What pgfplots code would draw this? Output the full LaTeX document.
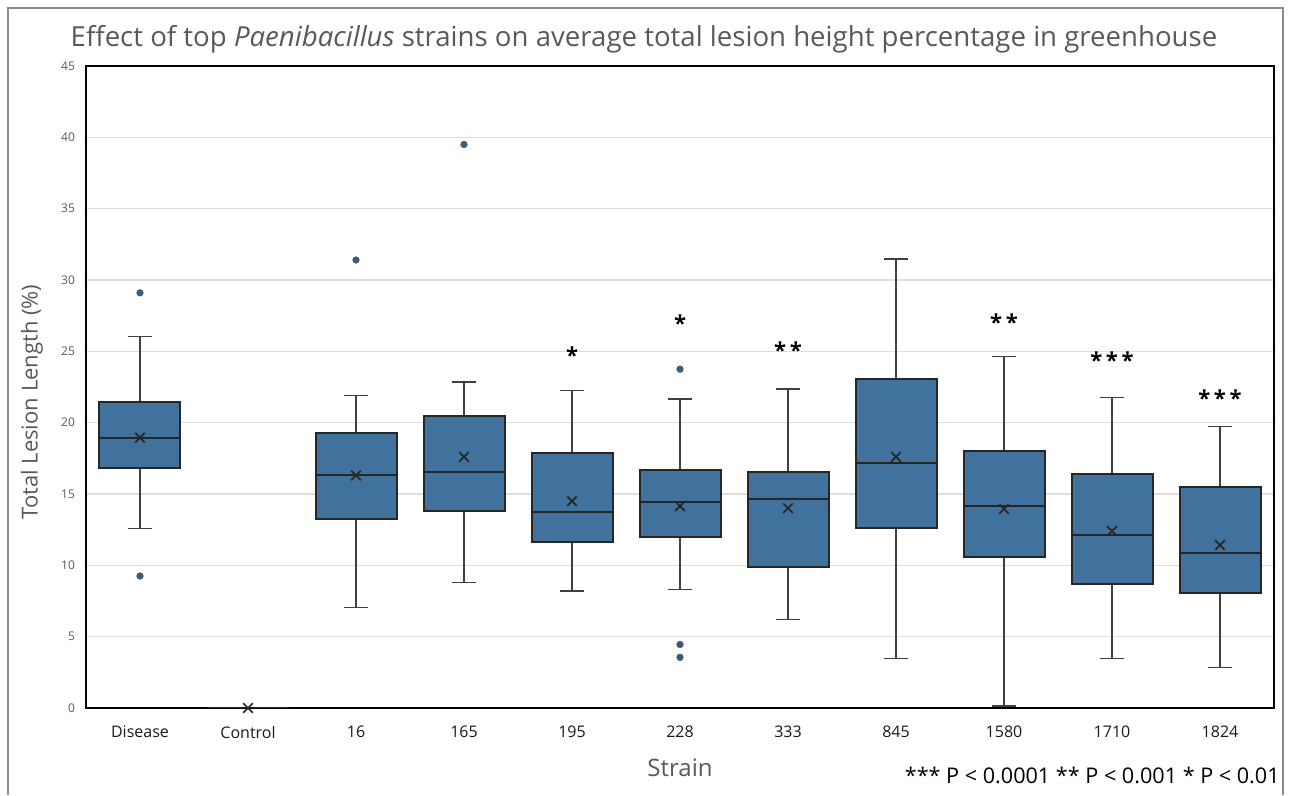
\documentclass[border=0pt]{standalone}
\usepackage{fontspec}
\setmainfont{Open Sans}
\usepackage{pgfplots}
\pgfplotsset{compat=1.18}
\usepgfplotslibrary{statistics}

\definecolor{boxblue}{RGB}{65,114,158}
\definecolor{dotblue}{RGB}{60,92,124}
\definecolor{txtgray}{RGB}{89,89,89}

\begin{document}
\begin{tikzpicture}
\begin{axis}[
  name=ax,
  at={(0,0)}, anchor=south west,
  scale only axis,
  width=594pt, height=321pt,
  xmin=-0.5, xmax=10.5,
  ymin=0, ymax=45,
  xtick={0,...,10},
  xticklabels={Disease,Control,16,165,195,228,333,845,1580,1710,1824},
  ytick={0,5,...,45},
  major tick length=0pt,
  ymajorgrids,
  grid style={draw=black!13, line width=0.7pt},
  axis line style={draw=black, line width=1pt},
  /pgf/number format/assume math mode=true,
  yticklabel style={font=\fontsize{6}{7}\selectfont, text=txtgray, xshift=-2pt},
  xticklabel style={font=\fontsize{8}{9}\selectfont, text=black!90, yshift=-5.5pt},
  boxplot/draw direction=y,
  boxplot/box extend=0.75,
  boxplot/whisker extend=0.22,
  boxplot/every box/.style={fill=boxblue, draw=black!85, line width=1pt},
  boxplot/every whisker/.style={draw=black!75, line width=0.7pt},
  boxplot/every median/.style={draw=black!85, line width=1pt},
]
% boxes: lower whisker, Q1, median, Q3, upper whisker
\addplot[boxplot prepared={draw position=0, lower whisker=12.6, lower quartile=16.8, median=18.95, upper quartile=21.45, upper whisker=26.05}] coordinates {};
\addplot[boxplot prepared={draw position=1, lower whisker=0, lower quartile=0, median=0, upper quartile=0, upper whisker=0}, boxplot/every box/.style={draw=black!40, line width=0.7pt}, boxplot/every whisker/.style={draw=none}] coordinates {};
\addplot[boxplot prepared={draw position=2, lower whisker=7.05, lower quartile=13.22, median=16.3, upper quartile=19.27, upper whisker=21.9}] coordinates {};
\addplot[boxplot prepared={draw position=3, lower whisker=8.8, lower quartile=13.83, median=16.54, upper quartile=20.46, upper whisker=22.85}] coordinates {};
\addplot[boxplot prepared={draw position=4, lower whisker=8.2, lower quartile=11.66, median=13.71, upper quartile=17.85, upper whisker=22.26}] coordinates {};
\addplot[boxplot prepared={draw position=5, lower whisker=8.32, lower quartile=12.0, median=14.41, upper quartile=16.66, upper whisker=21.65}] coordinates {};
\addplot[boxplot prepared={draw position=6, lower whisker=6.19, lower quartile=9.88, median=14.62, upper quartile=16.54, upper whisker=22.35}] coordinates {};
\addplot[boxplot prepared={draw position=7, lower whisker=3.46, lower quartile=12.61, median=17.15, upper quartile=23.08, upper whisker=31.46}] coordinates {};
\addplot[boxplot prepared={draw position=8, lower whisker=0.14, lower quartile=10.6, median=14.16, upper quartile=17.99, upper whisker=24.62}] coordinates {};
\addplot[boxplot prepared={draw position=9, lower whisker=3.46, lower quartile=8.69, median=12.15, upper quartile=16.42, upper whisker=21.77}] coordinates {};
\addplot[boxplot prepared={draw position=10, lower whisker=2.85, lower quartile=8.08, median=10.84, upper quartile=15.47, upper whisker=19.74}] coordinates {};

% means
\addplot[only marks, mark=x, mark size=3.4pt, mark options={draw=black!85, line width=0.85pt}]
  coordinates {(0,18.95) (1,0) (2,16.3) (3,17.6) (4,14.5) (5,14.15) (6,14.0) (7,17.6) (8,13.95) (9,12.4) (10,11.42)};

% outliers
\addplot[only marks, mark=*, mark size=1.6pt, mark options={fill=dotblue, draw=dotblue}]
  coordinates {(0,29.1) (0,9.25) (2,31.4) (3,39.5) (5,23.75) (5,4.45) (5,3.55)};

% significance
\begin{scope}[every node/.style={font=\fontsize{11}{12}\selectfont\bfseries, inner sep=0pt}]
\node at (axis cs:4,24.7) {*};
\node at (axis cs:5,26.96) {*};
\node at (axis cs:6,25.1) {*\,*};
\node at (axis cs:8,27.03) {*\,*};
\node at (axis cs:9,24.39) {*\,*\,*};
\node at (axis cs:10,21.7) {*\,*\,*};
\end{scope}
\end{axis}

% outer frame
\draw[black!45, line width=0.8pt] (-39pt,-43.5pt) -- (-39pt,350pt) -- (598.5pt,350pt) -- (598.5pt,-43.5pt);

% title and labels
\node[text=txtgray, font=\fontsize{13.8}{16}\selectfont] at (279pt,334.5pt)
  {Effect of top \textit{Paenibacillus} strains on average total lesion height percentage in greenhouse};
\node[text=txtgray, font=\fontsize{11}{13}\selectfont, rotate=90] at (-27pt,153pt) {Total Lesion Length (\%)};
\node[text=txtgray, font=\fontsize{12}{14}\selectfont] at (297pt,-30pt) {Strain};
\node[anchor=east, text=black, font=\fontsize{10.8}{12}\selectfont, inner sep=0pt] at (597pt,-33.5pt)
  {*** P < 0.0001 ** P < 0.001 * P < 0.01};

\path[use as bounding box] (-43pt,-43.5pt) rectangle (603pt,354pt);
\end{tikzpicture}
\end{document}
